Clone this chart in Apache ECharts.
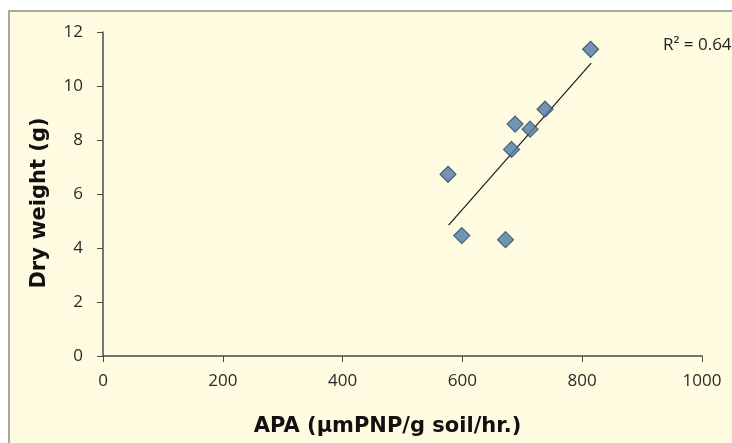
<!DOCTYPE html>
<html>
<head>
<meta charset="utf-8">
<script src="https://cdn.jsdelivr.net/npm/echarts@6/dist/echarts.min.js"></script>
<style>
  html, body { margin: 0; padding: 0; background: #ffffff; }
  #frame { position: absolute; left: 8px; top: 10px; width: 800px; height: 500px;
           border-left: 2px solid #a8a8a0; border-top: 2px solid #a8a8a0; background: #fffbe1; }
  #chart { position: absolute; left: 0; top: 0; width: 732px; height: 443px; }
</style>
</head>
<body>
<div id="frame"></div>
<div id="chart"></div>
<script>
    // APA vs dry weight points
    var apa = [576, 599, 672, 682, 688, 713, 738, 814];
    var dryWeight = [6.73, 4.46, 4.31, 7.65, 8.59, 8.40, 9.14, 11.36];

    // linear trendline end points (as drawn)
    var trendX = [577, 815];
    var trendY = [4.85, 10.85];

    var xTicks = [0, 200, 400, 600, 800, 1000];
    var yTicks = [0, 2, 4, 6, 8, 10, 12];
    var r2Text = 'R² = 0.64';

    var chart = echarts.init(document.getElementById('chart'), null, { renderer: 'canvas' });

    var points = apa.map(function(x, i) { return [x, dryWeight[i]]; });
    var trend = trendX.map(function(x, i) { return [x, trendY[i]]; });

    var axisColor = '#4a4a4a';
    var tickFont = { color: '#2a2a2a', fontSize: 17, fontFamily: 'Open Sans' };
    var titleFont = { color: '#111', fontSize: 21, fontWeight: 'bold', fontFamily: 'DejaVu Sans' };

    var option = {
        backgroundColor: 'transparent',
        animation: false,
        grid: { left: 103, right: 30, top: 32, bottom: 87 },
        xAxis: {
            type: 'value',
            min: xTicks[0],
            max: xTicks[xTicks.length - 1],
            interval: xTicks[1] - xTicks[0],
            name: 'APA (µmPNP/g soil/hr.)',
            nameLocation: 'middle',
            nameGap: 60,
            nameTextStyle: Object.assign({ padding: [0, 30, 0, 0] }, titleFont),
            axisLine: { show: true, lineStyle: { color: axisColor, width: 1.5 } },
            axisTick: { show: true, inside: false, length: 6, lineStyle: { color: axisColor } },
            axisLabel: Object.assign({ margin: 17, formatter: function(v) { return String(v); } }, tickFont),
            splitLine: { show: false }
        },
        yAxis: {
            type: 'value',
            min: yTicks[0],
            max: yTicks[yTicks.length - 1],
            interval: yTicks[1] - yTicks[0],
            name: 'Dry weight (g)',
            nameLocation: 'middle',
            nameGap: 53,
            nameTextStyle: Object.assign({ padding: [0, 18, 0, 0] }, titleFont),
            axisLine: { show: true, lineStyle: { color: axisColor, width: 1.5 } },
            axisTick: { show: true, inside: false, length: 6, lineStyle: { color: axisColor } },
            axisLabel: Object.assign({ margin: 20 }, tickFont),
            splitLine: { show: false }
        },
        series: [{
            type: 'line',
            data: trend,
            symbol: 'none',
            lineStyle: { color: '#1a1a1a', width: 1.2 },
            z: 1
        }, {
            type: 'scatter',
            data: points,
            symbol: 'diamond',
            symbolSize: 16,
            itemStyle: { color: '#4f7aa6', borderColor: '#2c4a6a', borderWidth: 1.2 },
            z: 2
        }],
        graphic: [{
            type: 'text',
            left: 663,
            top: 37,
            style: { text: r2Text, fill: '#222', fontSize: 17, fontFamily: 'Open Sans' }
        }]
    };

    chart.setOption(option);
</script>
</body>
</html>
